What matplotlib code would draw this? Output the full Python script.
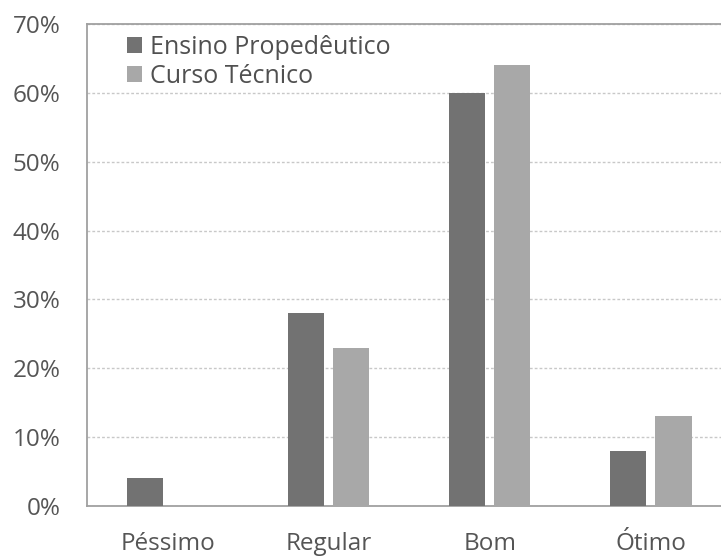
import matplotlib
matplotlib.use("Agg")
import matplotlib.pyplot as plt
import numpy as np

categories = ["Péssimo", "Regular", "Bom", "Ótimo"]
ensino_propedeutico = [4, 28, 60, 8]
curso_tecnico = [0, 23, 64, 13]
series_labels = ["Ensino Propedêutico", "Curso Técnico"]
y_ticks = [0, 10, 20, 30, 40, 50, 60, 70]

plt.rcParams["font.family"] = ["Open Sans", "DejaVu Sans"]

fig = plt.figure(figsize=(7.21, 5.58), dpi=100)
ax = fig.add_axes([0.1207, 0.0932, 0.8793, 0.8638])

x = np.arange(len(categories))
width = 0.225
offset = 0.14

ax.bar(x - offset, ensino_propedeutico, width, color="#727272",
       label=series_labels[0], zorder=3)
ax.bar(x + offset, curso_tecnico, width, color="#a8a8a8",
       label=series_labels[1], zorder=3)

ax.set_ylim(0, 70)
ax.set_xlim(-0.5, 3.435)
ax.set_yticks(y_ticks)
ax.set_yticklabels([f"{v}%" for v in y_ticks])
ax.set_xticks(x)
ax.set_xticklabels(categories)

ax.grid(True, axis="y", color="#c8c8c8", linestyle=(0, (2, 1.5)),
        linewidth=1.0, zorder=0)

for side in ("top", "left", "bottom"):
    ax.spines[side].set_color("#a0a0a0")
    ax.spines[side].set_linewidth(1.3)
ax.spines["right"].set_visible(False)

ax.tick_params(axis="y", length=0, pad=19, labelsize=17.5, labelcolor="#555555")
ax.tick_params(axis="x", length=0, pad=18.5, labelsize=17.5, labelcolor="#555555")

leg = ax.legend(loc="upper left", bbox_to_anchor=(0.04, 1.008), frameon=False,
                fontsize=18, handlelength=0.6, handleheight=0.6,
                handletextpad=0.3, labelspacing=0.15, borderaxespad=0.2)
for t in leg.get_texts():
    t.set_color("#505050")

fig.savefig("out.png", dpi=100)
